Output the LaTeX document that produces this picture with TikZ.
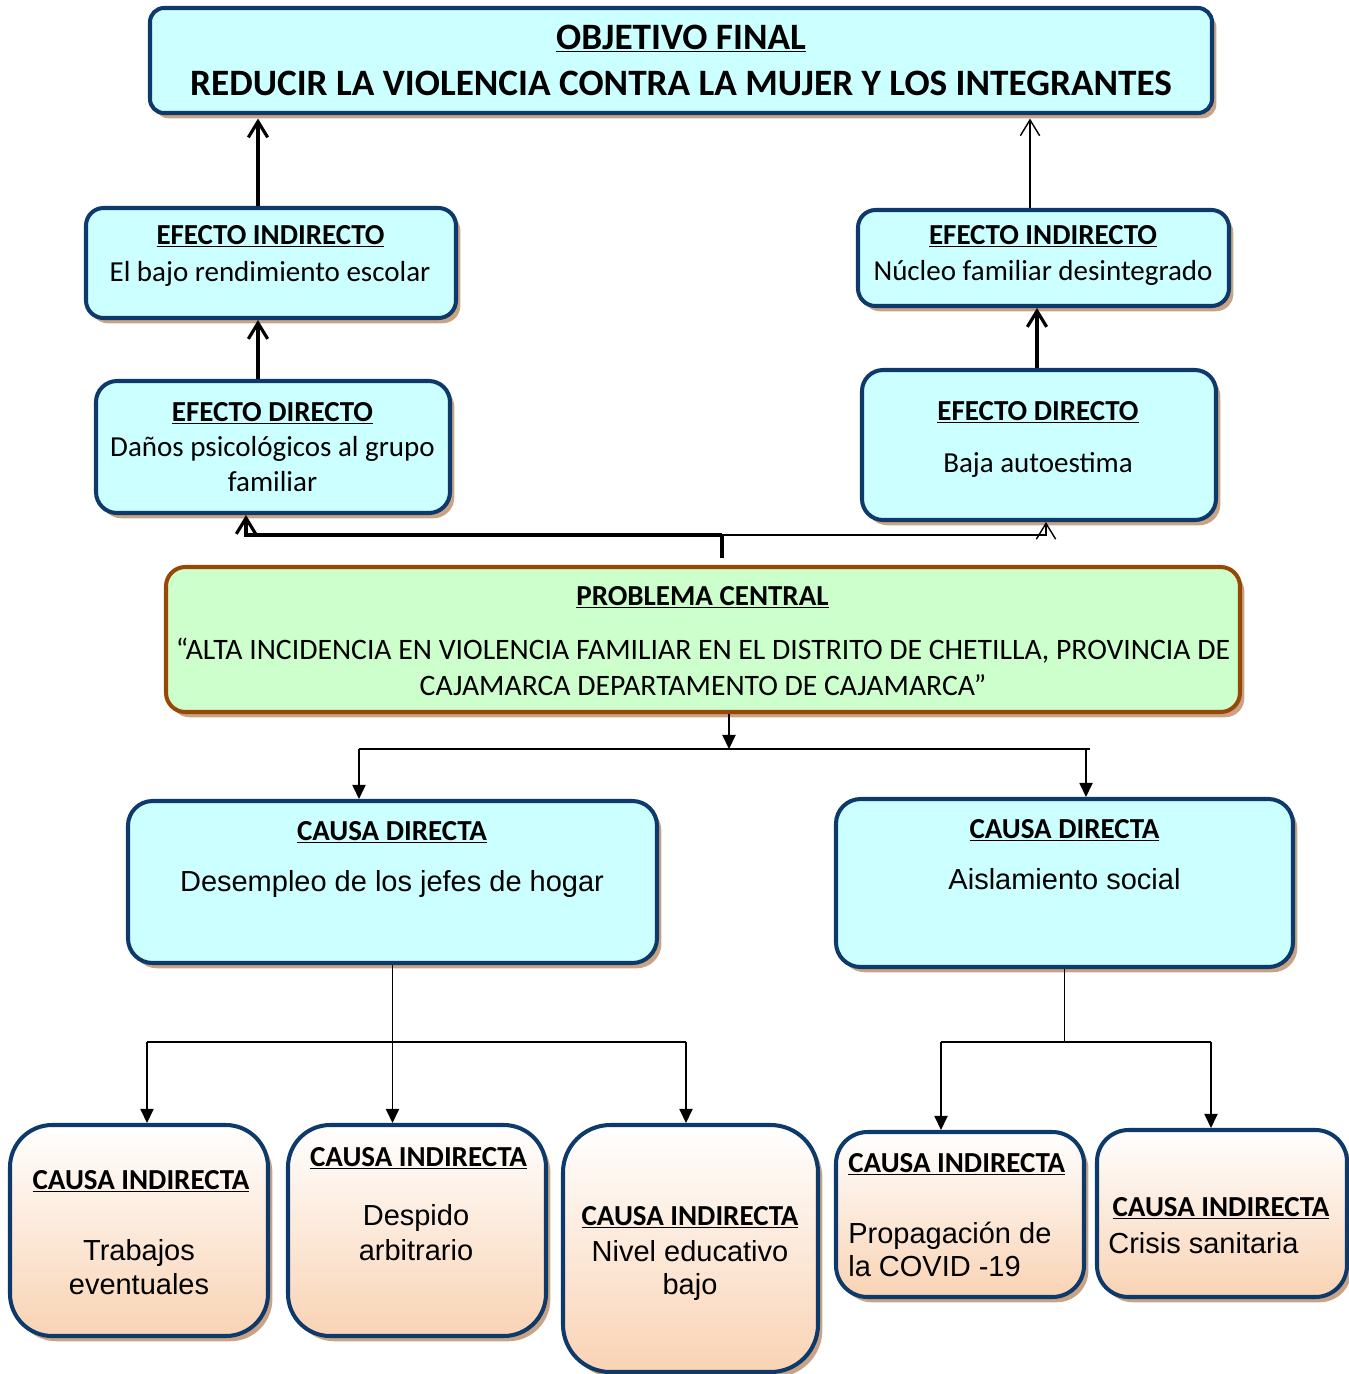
\documentclass[tikz,border=0pt]{standalone}
\usepackage{fontspec}
\setmainfont{Carlito}
\newfontfamily\arialfont{Liberation Sans}
\usetikzlibrary{arrows.meta,shadows,calc}
\definecolor{cyanfill}{HTML}{CCFFFF}
\definecolor{greenfill}{HTML}{CCFFCC}
\definecolor{boxblue}{HTML}{0E3A6B}
\definecolor{boxbrown}{HTML}{974806}
\definecolor{shadowtan}{HTML}{C9A384}
\definecolor{peach}{HTML}{F9D3B4}
\newlength\px
\setlength\px{0.02cm}
\newcommand\hd[1]{\textbf{\underline{#1}}}

\begin{document}
\begin{tikzpicture}[x=0.02cm,y=-0.02cm,
  box/.style={draw=boxblue,line width=2.3pt,fill=cyanfill,inner sep=0pt,
    drop shadow={shadow xshift=2.5pt,shadow yshift=-3pt,fill=shadowtan,opacity=1}},
  causebox/.style={box,top color=white,bottom color=peach},
  txt/.style={inner sep=0pt,anchor=base,font=\fontsize{16.5}{20}\selectfont},
  atxt/.style={txt,font=\fontsize{16.5}{20}\selectfont\arialfont},
  thin/.style={line width=0.8pt},
  thick/.style={line width=1.8pt},
  barb/.style={-{Straight Barb[length=9pt,width=11pt]}},
  tri/.style={thin,-{Triangle[length=8pt,width=7.5pt]}}]
\useasboundingbox (0,0) rectangle (1349,1374);

% objetivo
\node[box,rounded corners=8pt,minimum width=1062\px,minimum height=105\px] (obj) at (681,60.5) {};
\node[txt,font=\fontsize{21.2}{25}\selectfont] (objA) at (681,49) {\hd{OBJETIVO FINAL}};
\node[txt,font=\fontsize{21.2}{25}\selectfont\bfseries] (objB) at (681,95) {REDUCIR LA VIOLENCIA CONTRA LA MUJER Y LOS INTEGRANTES};

% efectos indirectos
\node[box,rounded corners=10pt,minimum width=370\px,minimum height=110\px] (eiL) at (271,263) {};
\node[txt] (eiLa) at (270.5,244) {\hd{EFECTO INDIRECTO}};
\node[txt] (eiLb) at (270,281) {El bajo rendimiento escolar};
\node[box,rounded corners=10pt,minimum width=371\px,minimum height=96\px] (eiR) at (1043.5,258) {};
\node[txt] (eiRa) at (1043,244) {\hd{EFECTO INDIRECTO}};
\node[txt] (eiRb) at (1043,280) {Núcleo familiar desintegrado};

% efectos directos
\node[box,rounded corners=12pt,minimum width=354\px,minimum height=132\px] (edL) at (273,447) {};
\node[txt] (edLa) at (272.5,421) {\hd{EFECTO DIRECTO}};
\node[txt] (edLb) at (272.5,456) {Daños psicológicos al grupo};
\node[txt] (edLc) at (272.5,491) {familiar};
\node[box,rounded corners=12pt,minimum width=354\px,minimum height=150\px] (edR) at (1039,445) {};
\node[txt] (edRa) at (1038,420) {\hd{EFECTO DIRECTO}};
\node[txt] (edRb) at (1038,472) {Baja autoestima};

% problema central
\node[box,draw=boxbrown,fill=greenfill,rounded corners=11pt,minimum width=1074\px,minimum height=145\px] (prob) at (703,639.5) {};
\node[txt] (probA) at (702.5,605) {\hd{PROBLEMA CENTRAL}};
\node[txt,font=\fontsize{16.9}{20}\selectfont] (probB) at (703,659) {“ALTA INCIDENCIA EN VIOLENCIA FAMILIAR EN EL DISTRITO DE CHETILLA, PROVINCIA DE};
\node[txt,font=\fontsize{16.9}{20}\selectfont] (probC) at (703,695) {CAJAMARCA DEPARTAMENTO DE CAJAMARCA”};

% causas directas
\node[box,rounded corners=14pt,minimum width=529\px,minimum height=162\px] (cdL) at (392.5,882) {};
\node[txt] (cdLa) at (392,840) {\hd{CAUSA DIRECTA}};
\node[atxt] (cdLb) at (392,891) {Desempleo de los jefes de hogar};
\node[box,rounded corners=14pt,minimum width=457\px,minimum height=168\px] (cdR) at (1064.5,883) {};
\node[txt] (cdRa) at (1064.5,838) {\hd{CAUSA DIRECTA}};
\node[atxt] (cdRb) at (1064.5,889) {Aislamiento social};

% causas indirectas
\node[causebox,rounded corners=24pt,minimum width=258\px,minimum height=211\px] (ci1) at (139,1230.5) {};
\node[txt] (ci1a) at (141,1189) {\hd{CAUSA INDIRECTA}};
\node[atxt] (ci1b) at (139,1260) {Trabajos};
\node[atxt] (ci1c) at (139,1294) {eventuales};
\node[causebox,rounded corners=24pt,minimum width=258\px,minimum height=211\px] (ci2) at (417,1230.5) {};
\node[txt] (ci2a) at (418.5,1166) {\hd{CAUSA INDIRECTA}};
\node[atxt] (ci2b) at (416,1225) {Despido};
\node[atxt] (ci2c) at (416,1260) {arbitrario};
\node[causebox,rounded corners=27pt,minimum width=255\px,minimum height=247\px] (ci3) at (690.5,1248.5) {};
\node[txt] (ci3a) at (690,1225) {\hd{CAUSA INDIRECTA}};
\node[atxt] (ci3b) at (690,1261) {Nivel educativo};
\node[atxt] (ci3c) at (690,1294) {bajo};
\node[causebox,rounded corners=18pt,minimum width=248\px,minimum height=165\px] (ci4) at (960,1214.5) {};
\node[txt,anchor=base west] (ci4a) at (848,1172) {\hd{CAUSA INDIRECTA}};
\node[atxt,anchor=base west] (ci4b) at (848,1243) {Propagación de};
\node[atxt,anchor=base west] (ci4c) at (848,1276) {la COVID -19};
\node[causebox,rounded corners=18pt,minimum width=250\px,minimum height=167\px] (ci5) at (1222,1213.5) {};
\node[txt] (ci5a) at (1221,1216) {\hd{CAUSA INDIRECTA}};
\node[atxt,anchor=base west] (ci5b) at (1108,1253) {Crisis sanitaria};

% efectos hacia arriba
\coordinate (xa) at (258,0);
\coordinate (xb) at (1030,0);
\coordinate (xc) at (1037,0);
\draw[thick,barb,shorten >=2pt] (xa |- eiL.north) -- (xa |- obj.south);
\draw[thin,barb,shorten >=2pt] (xb |- eiR.north) -- (xb |- obj.south);
\draw[thick,barb] (xa |- edL.north) -- (xa |- eiL.south);
\draw[thick,barb] (xc |- edR.north) -- (xc |- eiR.south);

% problema hacia efectos
\coordinate (stem) at (722,558);
\coordinate (fork) at (722,535);
\coordinate (xd) at (246,0);
\coordinate (xe) at (1046,0);
\draw[thick] (stem) -- (fork);
\draw[thick,barb] (fork) -| (xd |- edL.south);
\draw[thin,barb] (fork) -| (xe |- edR.south);

% problema hacia causas
\coordinate (barL) at (359,749);
\coordinate (barM) at (729,749);
\coordinate (barR) at (1090,749);
\coordinate (xg) at (1086,749);
\draw[tri] (barM |- prob.south) -- (barM);
\draw[thin] (barL) -- (barR);
\draw[tri] (barL) -- (barL |- cdL.north);
\draw[tri] (xg) -- (xg |- cdR.north);

% causas directas hacia indirectas
\coordinate (lowL) at (147,1042);
\coordinate (lowM) at (686,1042);
\coordinate (lowA) at (941,1042);
\coordinate (lowB) at (1211,1042);
\draw[tri] (cdL.south) -- (cdL.south |- ci2.north);
\draw[thin] (lowL) -- (lowM);
\draw[tri] (lowL) -- (lowL |- ci1.north);
\draw[tri] (lowM) -- (lowM |- ci3.north);
\draw[thin] (cdR.south) -- (cdR.south |- lowA);
\draw[thin] (lowA) -- (lowB);
\draw[tri] (lowA) -- (lowA |- ci4.north);
\draw[tri] (lowB) -- (lowB |- ci5.north);
\end{tikzpicture}
\end{document}
